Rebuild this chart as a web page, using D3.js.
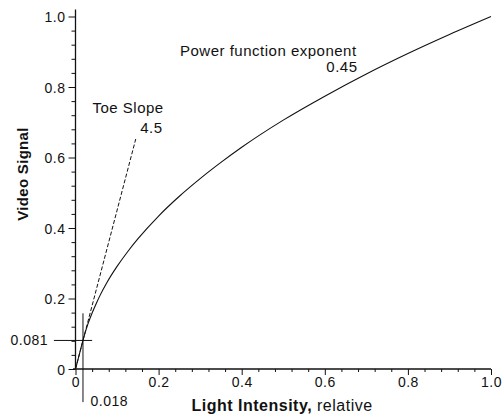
<!DOCTYPE html>
<html>
<head>
<meta charset="utf-8">
<script src="https://cdn.jsdelivr.net/npm/d3@7"></script>
<style>
  html, body { margin: 0; padding: 0; background: #fff; }
  svg { display: block; }
  text { font-family: "Liberation Sans", Arial, Helvetica, sans-serif; fill: #111; }
</style>
</head>
<body>
<script>
// ---- data ----
const lightIntensity = [0, 0.01, 0.018, 0.02, 0.03, 0.04, 0.05, 0.06, 0.075, 0.1, 0.125, 0.15, 0.2, 0.25, 0.3, 0.35, 0.4, 0.5, 0.6, 0.7, 0.8, 0.9, 1.0];
const videoSignal    = [0, 0.045, 0.081, 0.090, 0.128, 0.159, 0.186, 0.211, 0.244, 0.291, 0.332, 0.369, 0.434, 0.490, 0.540, 0.586, 0.629, 0.706, 0.774, 0.837, 0.895, 0.949, 1.0];
const toeX = [0, 0.145];
const toeY = [0, 0.6525];
const majorTicks = [0, 0.2, 0.4, 0.6, 0.8, 1.0];
const majorLabels = ["0", "0.2", "0.4", "0.6", "0.8", "1.0"];
const minorTicks = [0.04, 0.08, 0.12, 0.16, 0.24, 0.28, 0.32, 0.36, 0.44, 0.48, 0.52, 0.56, 0.64, 0.68, 0.72, 0.76, 0.84, 0.88, 0.92, 0.96];
const breakX = 0.018, breakY = 0.081;
const breakXLabel = "0.018", breakYLabel = "0.081";
const powerLabel = ["Power function exponent", "0.45"];
const toeLabel = ["Toe Slope", "4.5"];

const W = 502, H = 417;
const svg = d3.select("body").append("svg").attr("width", W).attr("height", H);

const x = d3.scaleLinear().domain([0, 1]).range([75.5, 491]);
const y = d3.scaleLinear().domain([0, 1]).range([369, 16.5]);

// axes lines
const g = svg.append("g").attr("stroke", "#111").attr("fill", "none");
g.append("line").attr("x1", x(-0.006)).attr("x2", x(1.0)).attr("y1", y(0)).attr("y2", y(0)).attr("stroke-width", 1.3);
g.append("line").attr("x1", x(0)).attr("x2", x(0)).attr("y1", y(0)).attr("y2", y(1.02)).attr("stroke-width", 1.3);

// x axis ticks
const xAxisMajor = d3.axisBottom(x).tickValues(majorTicks).tickSize(6).tickFormat((d, i) => majorLabels[i]);
const xAxisMinor = d3.axisBottom(x).tickValues(minorTicks).tickSize(3).tickFormat("");
const yAxisMajor = d3.axisLeft(y).tickValues(majorTicks).tickSize(7).tickFormat((d, i) => majorLabels[i]);
const yAxisMinor = d3.axisLeft(y).tickValues(minorTicks).tickSize(4).tickFormat("");

function styleAxis(sel) {
  sel.select(".domain").remove();
  sel.selectAll("line").attr("stroke", "#111").attr("stroke-width", 1);
  sel.selectAll("text").attr("fill", "#111").style("font-size", "14px")
     .style("font-family", "'Liberation Sans', Arial, sans-serif").style("letter-spacing", "0.5px");
}
svg.append("g").attr("transform", `translate(0,${y(0)})`).call(xAxisMajor).call(styleAxis)
   .selectAll("text").attr("dy", "0.95em").attr("y", 5);
svg.append("g").attr("transform", `translate(0,${y(0)})`).call(xAxisMinor).call(styleAxis);
svg.append("g").attr("transform", `translate(${x(0)},0)`).call(yAxisMajor).call(styleAxis)
   .selectAll("text").attr("x", -10).attr("dy", "0.36em");
svg.append("g").attr("transform", `translate(${x(0)},0)`).call(yAxisMinor).call(styleAxis);

// crosshair at the break point
svg.append("line").attr("x1", x(-0.052)).attr("x2", x(0.04)).attr("y1", y(breakY)).attr("y2", y(breakY))
   .attr("stroke", "#111").attr("stroke-width", 1);
svg.append("line").attr("x1", x(breakX)).attr("x2", x(breakX)).attr("y1", y(0.158)).attr("y2", y(-0.094))
   .attr("stroke", "#111").attr("stroke-width", 1);
svg.append("text").attr("x", x(-0.066)).attr("y", y(breakY)).attr("dy", "0.36em").attr("text-anchor", "end")
   .style("font-size", "14px").style("letter-spacing", "0.5px").text(breakYLabel);
svg.append("text").attr("x", x(0.036)).attr("y", y(-0.106)).attr("text-anchor", "start")
   .style("font-size", "14px").style("letter-spacing", "0.5px").text(breakXLabel);

// toe slope (dashed)
const toePts = toeX.map((d, i) => [d, toeY[i]]);
svg.append("path").datum(toePts)
   .attr("d", d3.line().x(d => x(d[0])).y(d => y(d[1])))
   .attr("fill", "none").attr("stroke", "#111").attr("stroke-width", 1).attr("stroke-dasharray", "4,2");

// transfer curve
const curvePts = lightIntensity.map((d, i) => [d, videoSignal[i]]);
svg.append("path").datum(curvePts)
   .attr("d", d3.line().curve(d3.curveMonotoneX).x(d => x(d[0])).y(d => y(d[1])))
   .attr("fill", "none").attr("stroke", "#111").attr("stroke-width", 1.1);

// annotations
svg.append("text").attr("x", 180).attr("y", 55.5).style("font-size", "15px").style("letter-spacing", "0.5px").text(powerLabel[0]);
svg.append("text").attr("x", 357.5).attr("y", 71.5).attr("text-anchor", "end").style("font-size", "15px").style("letter-spacing", "0.5px").text(powerLabel[1]);
svg.append("text").attr("x", 92.5).attr("y", 112.5).style("font-size", "15px").style("letter-spacing", "0.5px").text(toeLabel[0]);
svg.append("text").attr("x", 162.5).attr("y", 133).attr("text-anchor", "end").style("font-size", "15px").style("letter-spacing", "0.5px").text(toeLabel[1]);

// axis titles
svg.append("text").attr("transform", "translate(28,174) rotate(-90)").attr("text-anchor", "middle")
   .style("font-size", "15px").style("font-weight", "bold").style("letter-spacing", "0.3px").text("Video Signal");
const xt = svg.append("text").attr("x", 191.5).attr("y", 411).style("font-size", "16px").style("letter-spacing", "0.5px");
xt.append("tspan").style("font-weight", "bold").text("Light Intensity,");
xt.append("tspan").text(" relative");
</script>
</body>
</html>
